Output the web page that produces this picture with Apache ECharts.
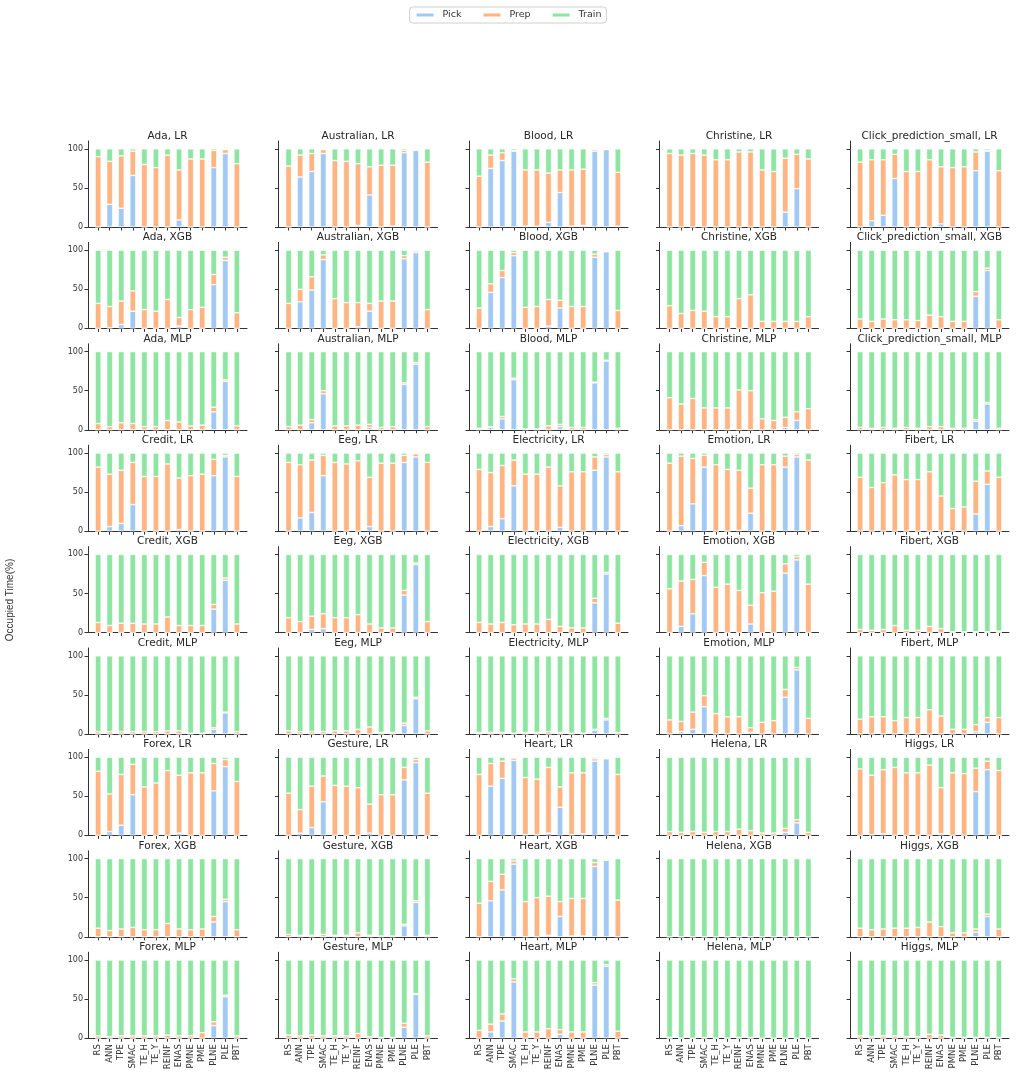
<!DOCTYPE html>
<html>
<head>
<meta charset="utf-8">
<title>Occupied Time</title>
<script src="https://cdn.jsdelivr.net/npm/echarts@6/dist/echarts.min.js"></script>
<style>html,body{margin:0;padding:0;background:#fff}#main{width:1016px;height:1076px}</style>
</head>
<body>
<div id="main"></div>
<script>
var categories = ['RS','ANN','TPE','SMAC','TE_H','TE_Y','REINF','ENAS','PMNE','PME','PLNE','PLE','PBT'];
var datasetRows = [
  ['Ada','Australian','Blood','Christine','Click_prediction_small'],
  ['Credit','Eeg','Electricity','Emotion','Fibert'],
  ['Forex','Gesture','Heart','Helena','Higgs']
];
var models = ['LR','XGB','MLP'];
var seriesNames = ['Pick','Prep','Train'];
var colors = ['#a1c9f4','#ffb482','#8de5a1'];
var yTicks = [0, 50, 100];

// each panel: [pick, prep, train]
var adaLR = [[0,29,24,66,0,0,0,9,0,0,76,94,0],[90,55,67,31,80,76,92,64,87,87,22,5,81],[10,16,9,3,20,24,8,27,13,13,2,1,19]];
var australianLR = [[0,64,71,94,0,0,2,41,0,1,95,98,0],[78,28,23,5,85,84,79,36,79,78,3,1,83],[22,8,6,1,15,16,19,23,21,21,2,1,17]];
var bloodLR = [[0,75,85,97,1,1,6,44,1,2,97,99,1],[65,17,10,1,72,72,63,29,72,72,2,1,69],[35,8,5,2,27,27,31,27,27,26,1,0,30]];
var christineLR = [[0,0,0,0,0,0,0,0,0,0,19,49,0],[94,92,94,92,86,86,96,96,73,71,69,44,87],[6,8,6,8,14,14,4,4,27,29,12,7,13]];
var clickLR = [[0,8,15,62,0,0,0,4,0,0,72,97,0],[83,78,71,31,71,71,86,73,76,77,24,1,72],[17,14,14,7,29,29,14,23,24,23,4,2,28]];

var adaXGB = [[0,1,5,22,0,0,0,3,0,0,56,87,0],[32,27,30,26,24,22,37,11,24,27,13,4,20],[68,72,65,52,76,78,63,86,76,73,31,9,80]];
var australianXGB = [[0,34,49,88,0,0,2,22,0,0,89,97,0],[32,16,17,6,38,33,31,10,35,35,4,2,24],[68,50,34,6,62,67,67,68,65,65,7,1,76]];
var bloodXGB = [[0,46,65,93,0,0,3,26,0,0,91,98,0],[26,11,9,4,27,28,34,10,28,28,4,1,23],[74,43,26,3,73,72,63,64,72,72,5,1,77]];
var christineXGB = [[0,0,0,0,0,0,0,0,0,0,0,0,0],[29,19,23,22,15,15,38,43,9,9,9,9,15],[71,81,77,78,85,85,62,57,91,91,91,91,85]];
var clickXGB = [[0,0,0,0,0,0,0,0,0,0,41,74,0],[12,9,12,11,11,10,17,15,9,9,6,3,11],[88,91,88,89,89,90,83,85,91,91,53,23,89]];

var adaMLP = [[0,0,0,0,0,0,0,0,0,0,23,62,0],[8,4,9,8,4,4,12,10,5,6,6,2,5],[92,96,91,92,96,96,88,90,95,94,71,36,95]];
var australianMLP = [[0,0,9,46,0,0,0,3,0,0,58,84,0],[4,6,4,4,5,5,6,4,3,4,2,2,4],[96,94,87,50,95,95,94,93,97,96,40,14,96]];
var bloodMLP = [[0,3,14,64,0,0,0,4,0,0,60,88,0],[2,1,3,2,1,1,5,3,3,3,1,1,2],[98,96,83,34,99,99,95,93,97,97,39,11,98]];
var christineMLP = [[0,0,0,0,0,0,0,0,0,0,3,12,0],[41,33,40,28,28,28,51,50,14,12,13,11,27],[59,67,60,72,72,72,49,50,86,88,84,77,73]];
var clickMLP = [[0,0,0,0,0,0,0,0,0,0,11,33,0],[3,2,3,2,3,2,4,4,2,2,2,2,2],[97,98,97,98,97,98,96,96,98,98,87,65,98]];

var creditLR = [[0,6,10,34,0,0,0,2,0,0,71,95,0],[82,67,68,54,70,70,86,66,71,73,21,2,70],[18,27,22,12,30,30,14,32,29,27,8,3,30]];
var eegLR = [[0,17,24,71,0,0,0,6,0,0,88,95,0],[88,68,67,26,88,86,90,63,87,87,9,4,88],[12,15,9,3,12,14,10,31,13,13,3,1,12]];
var electricityLR = [[0,6,16,58,0,0,0,5,0,0,78,95,0],[79,69,68,33,73,73,82,53,76,76,17,3,76],[21,25,16,9,27,27,18,42,24,24,5,2,24]];
var emotionLR = [[0,7,35,82,0,0,1,23,0,0,82,95,0],[87,89,58,15,85,79,77,32,85,85,14,3,91],[13,4,7,3,15,21,22,45,15,15,4,2,9]];
var fibertLR = [[0,0,0,0,0,0,0,0,0,0,22,60,0],[69,56,62,72,66,66,76,45,29,31,42,17,69],[31,44,38,28,34,34,24,55,71,69,36,23,31]];

var creditXGB = [[0,0,0,0,0,0,0,0,0,0,30,67,0],[13,9,12,12,11,11,20,9,9,9,6,3,11],[87,91,88,88,89,89,80,91,91,91,64,30,89]];
var eegXGB = [[0,0,4,5,0,0,0,0,0,0,48,87,0],[19,14,17,19,19,19,23,11,6,6,6,2,14],[81,86,79,76,81,81,77,89,94,94,46,11,86]];
var electricityXGB = [[0,0,0,0,0,0,0,0,0,0,38,75,0],[13,11,13,10,11,11,17,8,6,6,6,2,12],[87,89,87,90,89,89,83,92,94,94,56,23,88]];
var emotionXGB = [[0,8,24,73,0,0,0,11,0,0,76,93,0],[56,58,44,17,58,62,54,24,51,53,12,4,62],[44,34,32,10,42,38,46,65,49,47,12,3,38]];
var fibertXGB = [[0,0,0,0,0,0,0,0,0,0,0,0,0],[4,3,4,9,3,3,8,5,1,1,1,1,2],[96,97,96,91,97,97,92,95,99,99,99,99,98]];

var creditMLP = [[0,0,0,0,0,0,0,0,0,0,6,27,0],[3,3,3,3,3,3,4,4,1,1,2,1,3],[97,97,97,97,97,97,96,96,99,99,92,72,97]];
var eegMLP = [[0,0,0,0,0,0,0,0,0,0,11,45,0],[4,3,3,3,4,4,6,9,2,2,3,2,4],[96,97,97,97,96,96,94,91,98,98,86,53,96]];
var electricityMLP = [[0,0,0,0,0,0,0,0,0,0,5,18,0],[2,2,2,1,2,2,3,2,1,1,1,2,2],[98,98,98,99,98,98,97,98,99,99,94,80,98]];
var emotionMLP = [[0,3,6,35,0,0,0,2,0,0,47,82,0],[18,13,22,14,26,22,22,6,15,17,10,3,20],[82,84,72,51,74,78,78,92,85,83,43,15,80]];
var fibertMLP = [[0,0,0,0,0,0,0,0,0,0,3,15,0],[19,22,22,17,21,21,31,23,6,6,9,6,21],[81,78,78,83,79,79,69,77,94,94,88,79,79]];

var forexLR = [[0,5,13,52,0,0,0,3,0,0,57,88,0],[82,48,65,39,62,67,83,74,80,80,35,9,69],[18,47,22,9,38,33,17,23,20,20,8,3,31]];
var gestureLR = [[0,3,10,43,0,0,0,3,0,0,71,93,0],[54,30,53,33,64,63,61,37,52,52,16,4,54],[46,67,37,24,36,37,39,60,48,48,13,3,46]];
var heartLR = [[0,63,73,96,1,1,3,36,1,2,95,98,0],[78,29,22,3,73,71,84,26,79,78,3,1,78],[22,8,5,1,26,28,13,38,20,20,2,1,22]];
var helenaLR = [[0,0,0,0,0,0,0,0,0,0,4,16,0],[5,4,5,4,5,5,8,6,3,3,5,4,4],[95,96,95,96,95,95,92,94,97,97,91,80,96]];
var higgsLR = [[0,1,2,0,0,0,0,2,0,0,56,84,0],[85,76,82,87,80,80,90,59,80,79,30,11,83],[15,23,16,13,20,20,10,39,20,21,14,5,17]];

var forexXGB = [[0,0,0,0,0,0,0,0,0,0,19,45,0],[11,8,10,12,9,9,17,10,9,10,7,3,9],[89,92,90,88,91,91,83,90,91,90,74,52,91]];
var gestureXGB = [[0,0,0,0,0,0,0,0,0,0,14,44,0],[3,2,2,3,2,2,5,2,1,1,2,2,2],[97,98,98,97,98,98,95,98,99,99,84,54,98]];
var heartXGB = [[0,46,60,93,0,0,2,26,1,1,90,98,0],[43,25,20,4,45,50,50,19,48,48,5,1,47],[57,29,20,3,55,50,48,55,51,51,5,1,53]];
var helenaXGB = [[0,0,0,0,0,0,0,0,0,0,0,0,0],[0,0,0,0,0,0,0,0,0,0,0,0,0],[100,100,100,100,100,100,100,100,100,100,100,100,100]];
var higgsXGB = [[0,0,0,0,0,0,0,0,0,0,6,26,0],[11,9,10,11,11,12,19,13,5,5,4,3,10],[89,91,90,89,89,88,81,87,95,95,90,71,90]];

var forexMLP = [[0,0,0,0,0,0,0,0,0,0,16,53,0],[3,2,3,3,3,3,4,3,3,7,5,2,3],[97,98,97,97,97,97,96,97,97,93,79,45,97]];
var gestureMLP = [[0,0,0,0,0,0,0,0,0,0,14,56,0],[4,3,4,3,3,3,6,2,1,1,5,1,3],[96,97,96,97,97,97,94,98,99,99,81,43,97]];
var heartMLP = [[0,8,22,72,0,0,0,5,0,0,68,92,0],[10,10,9,4,8,8,12,6,8,8,3,2,9],[90,82,69,24,92,92,88,89,92,92,29,6,91]];
var helenaMLP = [[0,0,0,0,0,0,0,0,0,0,0,0,0],[1,0,0,1,0,0,1,1,0,0,0,0,0],[99,100,100,99,100,100,99,99,100,100,100,100,100]];
var higgsMLP = [[0,0,0,0,0,0,0,0,0,0,0,0,0],[3,2,3,3,2,2,5,4,1,1,1,1,1],[97,98,97,97,98,98,95,96,99,99,99,99,99]];

var panels = {
  'Ada, LR': adaLR, 'Australian, LR': australianLR, 'Blood, LR': bloodLR, 'Christine, LR': christineLR, 'Click_prediction_small, LR': clickLR,
  'Ada, XGB': adaXGB, 'Australian, XGB': australianXGB, 'Blood, XGB': bloodXGB, 'Christine, XGB': christineXGB, 'Click_prediction_small, XGB': clickXGB,
  'Ada, MLP': adaMLP, 'Australian, MLP': australianMLP, 'Blood, MLP': bloodMLP, 'Christine, MLP': christineMLP, 'Click_prediction_small, MLP': clickMLP,
  'Credit, LR': creditLR, 'Eeg, LR': eegLR, 'Electricity, LR': electricityLR, 'Emotion, LR': emotionLR, 'Fibert, LR': fibertLR,
  'Credit, XGB': creditXGB, 'Eeg, XGB': eegXGB, 'Electricity, XGB': electricityXGB, 'Emotion, XGB': emotionXGB, 'Fibert, XGB': fibertXGB,
  'Credit, MLP': creditMLP, 'Eeg, MLP': eegMLP, 'Electricity, MLP': electricityMLP, 'Emotion, MLP': emotionMLP, 'Fibert, MLP': fibertMLP,
  'Forex, LR': forexLR, 'Gesture, LR': gestureLR, 'Heart, LR': heartLR, 'Helena, LR': helenaLR, 'Higgs, LR': higgsLR,
  'Forex, XGB': forexXGB, 'Gesture, XGB': gestureXGB, 'Heart, XGB': heartXGB, 'Helena, XGB': helenaXGB, 'Higgs, XGB': higgsXGB,
  'Forex, MLP': forexMLP, 'Gesture, MLP': gestureMLP, 'Heart, MLP': heartMLP, 'Helena, MLP': helenaMLP, 'Higgs, MLP': higgsMLP
};

// layout
var colLeft = 88, colStep = 190.5, gridW = 159;
var rowTop = 141, rowStep = 101.4, gridH = 86;
var textColor = '#333';

// bars sit on sub-slots so the axis gets matplotlib-like side margins
var SUB = 8, PAD = 7;
var NSLOT = PAD * 2 + SUB * (categories.length - 1) + 1;
function isReal(k) { return k >= PAD && (k - PAD) % SUB === 0 && (k - PAD) / SUB < categories.length; }
var slotCats = [];
for (var k = 0; k < NSLOT; k++) slotCats.push(isReal(k) ? categories[(k - PAD) / SUB] : 'pad' + k);
function toSlots(arr) {
  var out = [];
  for (var k = 0; k < NSLOT; k++) out.push(isReal(k) ? arr[(k - PAD) / SUB] : '-');
  return out;
}

var grids = [], xAxes = [], yAxes = [], series = [], graphics = [];
var nRows = datasetRows.length * models.length;
var g = 0;
datasetRows.forEach(function (names, gi) {
  models.forEach(function (m, mi) {
    var r = gi * models.length + mi;
    names.forEach(function (name, c) {
      var title = name + ', ' + m;
      var left = colLeft + c * colStep, top = rowTop + r * rowStep;
      grids.push({ left: left, top: top, width: gridW, height: gridH });
      xAxes.push({
        type: 'category', gridIndex: g, data: slotCats, boundaryGap: false,
        axisLine: { lineStyle: { color: textColor, width: 1 } },
        axisTick: { interval: function (i) { return isReal(i); }, length: 3.5, lineStyle: { color: textColor } },
        axisLabel: {
          show: r === nRows - 1, interval: function (i) { return isReal(i); },
          rotate: 90, fontSize: 8.5, color: textColor, fontFamily: 'DejaVu Sans', margin: 6
        },
        splitLine: { show: false }
      });
      yAxes.push({
        type: 'value', gridIndex: g, min: 0, max: 110,
        axisLine: { show: true, lineStyle: { color: textColor, width: 1 } },
        axisTick: { show: true, customValues: yTicks, length: 3.5, lineStyle: { color: textColor } },
        axisLabel: { show: c === 0, customValues: yTicks, fontSize: 8, color: textColor, fontFamily: 'DejaVu Sans', margin: 5 },
        splitLine: { show: false }
      });
      var vals = panels[title];
      seriesNames.forEach(function (sn, si) {
        series.push({
          name: sn, type: 'bar', xAxisIndex: g, yAxisIndex: g, stack: 'p' + g,
          barWidth: 6, data: toSlots(vals[si]),
          itemStyle: { color: colors[si], borderColor: '#fff', borderWidth: 0.6 }
        });
      });
      graphics.push({
        type: 'text', x: left + gridW / 2, y: top - 5,
        style: { text: title, fontSize: 10.5, fontFamily: 'DejaVu Sans', fill: '#262626',
          textAlign: 'center', textVerticalAlign: 'middle', align: 'center', verticalAlign: 'middle' }
      });
      g++;
    });
  });
});

graphics.push({
  type: 'text', x: 10, y: 600, rotation: Math.PI / 2,
  style: { text: 'Occupied Time(%)', fontSize: 10, fontFamily: 'Liberation Sans', fill: textColor,
    textAlign: 'center', textVerticalAlign: 'middle', align: 'center', verticalAlign: 'middle' }
});

var myChart = echarts.init(document.getElementById('main'));
myChart.setOption({
  animation: false,
  backgroundColor: '#fff',
  legend: {
    data: seriesNames, top: 7, left: 'center', icon: 'rect',
    itemWidth: 19, itemHeight: 5, itemGap: 20,
    padding: [3, 5], borderColor: '#d0d0d0', borderWidth: 1, borderRadius: 3,
    textStyle: { fontSize: 9.5, color: textColor, fontFamily: 'DejaVu Sans', padding: [0, 0, 0, 3] }
  },
  grid: grids,
  xAxis: xAxes,
  yAxis: yAxes,
  series: series,
  graphic: graphics
});
</script>
</body>
</html>
